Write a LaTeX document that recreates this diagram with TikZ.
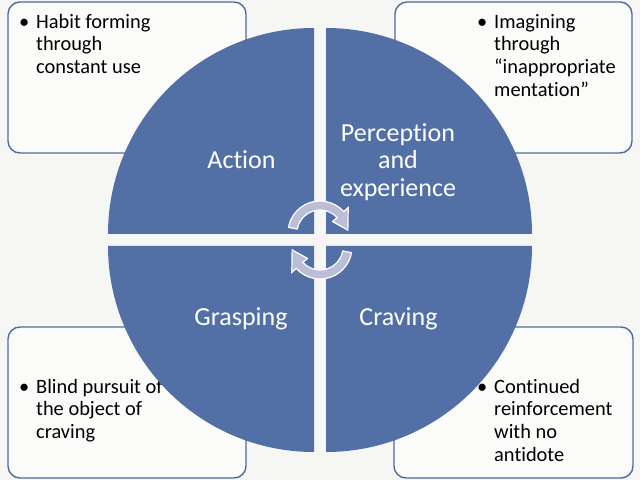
\documentclass[tikz,border=0pt]{standalone}
\usepackage{fontspec}
\setmainfont{Carlito}[Ligatures={NoCommon}]
\usetikzlibrary{calc}
\definecolor{bg}{RGB}{246,246,244}
\definecolor{qblue}{RGB}{82,112,166}
\definecolor{bborder}{RGB}{79,108,158}
\definecolor{bfill}{RGB}{251,251,250}
\definecolor{arrowfill}{RGB}{186,190,214}
\tikzset{
  notebox/.style={draw=bborder, line width=1.4pt, fill=bfill, rounded corners=12pt},
  quad/.style={fill=qblue, draw=none},
  qlabel/.style={text=white, font=\fontsize{26}{27.5}\selectfont, align=center, inner sep=0pt},
  notetext/.style={font=\fontsize{20.4}{22.6}\selectfont, align=left, anchor=north west, inner sep=0pt, text=black},
  cyc/.style={fill=arrowfill, draw=white, line width=1.2pt}
}
\newcommand{\bul}{\llap{\textbullet\hspace{7pt}}}
\begin{document}
\begin{tikzpicture}[x=1pt,y=1pt]
\useasboundingbox (0,0) rectangle (640,480);
\fill[bg] (0,0) rectangle (640,480);
% boxes
\draw[notebox] (8,327) rectangle (246,478);
\draw[notebox] (395,327) rectangle (632,478);
\draw[notebox] (8,2) rectangle (246,153);
\draw[notebox] (394,2) rectangle (633,153);
% texts
\node[notetext] (tTL) at (36,466) {\bul Habit forming\\through\\constant use};
\node[notetext] (tTR) at (494,466) {\bul Imagining\\through\\“inappropriate\\mentation”};
\node[notetext] (tBL) at (36,101) {\bul Blind pursuit of\\the object of\\craving};
\node[notetext] (tBR) at (494,101) {\bul Continued\\reinforcement\\with no\\antidote};
% quadrants
\fill[quad] (314,246) -- (108,246) arc[start angle=180,end angle=90,radius=206] -- cycle;
\fill[quad] (326,246) -- (326,452) arc[start angle=90,end angle=0,radius=206] -- cycle;
\fill[quad] (314,234) -- (314,28) arc[start angle=270,end angle=180,radius=206] -- cycle;
\fill[quad] (326,234) -- (532,234) arc[start angle=0,end angle=-90,radius=206] -- cycle;
% labels
\node[qlabel, anchor=base] (action) at (241.5,311) {Action};
\node[qlabel] (perc) at (398,318) {Perception\\and\\experience};
\node[qlabel, anchor=base] (grasp) at (241,155) {Grasping};
\node[qlabel, anchor=base] (crav) at (398.5,155) {Craving};
% cycle arrows
\foreach \r in {0,180}{
\begin{scope}[shift={(320,240)}, rotate=\r]
\path[cyc] (0,7) ++(170:32) arc[start angle=170,end angle=42,radius=32]
  -- ($(0,7)+(42:38)$) -- ($(0,7)+(6:28)$) -- ($(0,7)+(42:17)$) -- ($(0,7)+(42:23)$)
  arc[start angle=42,end angle=170,radius=23] -- cycle;
\end{scope}
}
\end{tikzpicture}
\end{document}
